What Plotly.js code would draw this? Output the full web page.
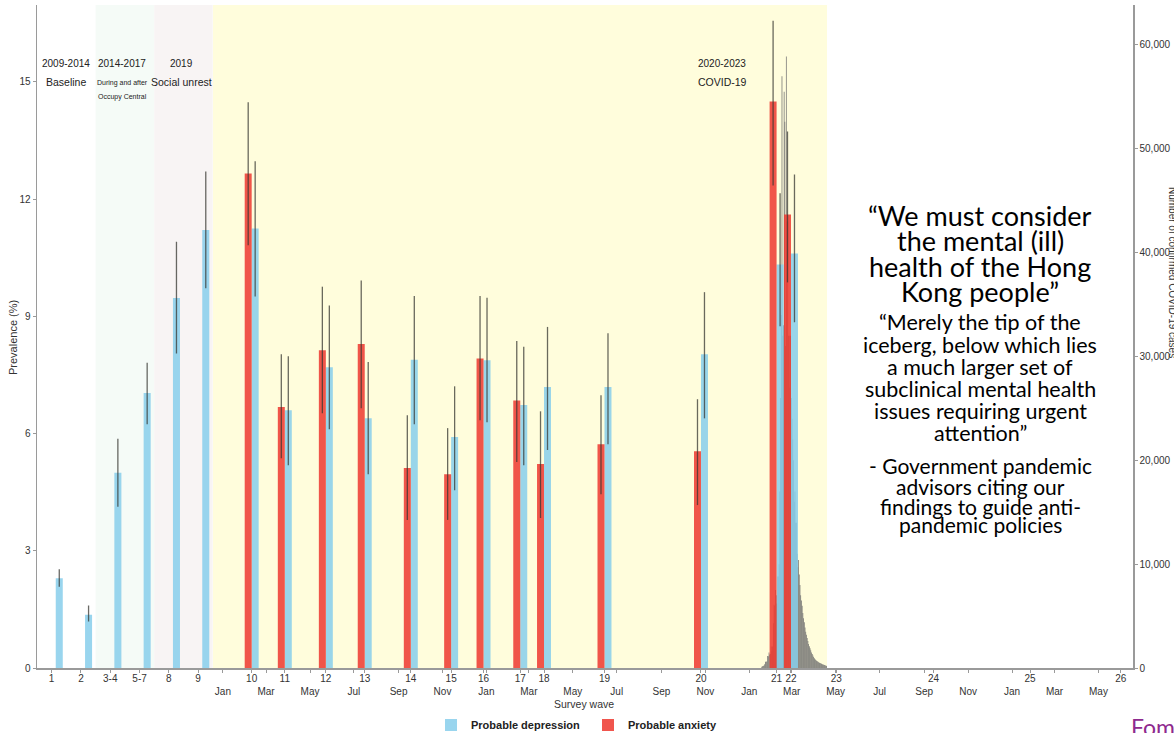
<!DOCTYPE html>
<html><head><meta charset="utf-8">
<script src="https://cdn.plot.ly/plotly-3.0.1.min.js"></script>
<style>html,body{margin:0;padding:0;background:#fff;overflow:hidden}</style>
</head><body><div id="chart" style="width:1174px;height:733px"></div>
<script>
// ---------- DATA ----------
// Pre-2020 survey waves (probable depression only)
const earlyWaves = ['1', '2', '3-4', '5-7', '8', '9'];
const earlyDep   = [2.30, 1.36, 5.00, 7.04, 9.47, 11.21];
const earlyDepHi = [2.53, 1.60, 5.87, 7.81, 10.91, 12.71];
const earlyDepLo = [2.08, 1.19, 4.13, 6.24, 8.05, 9.72];

// COVID-era survey waves
const covidWaves = ['10', '11', '12', '13', '14', '15', '16', '17', '18', '19', '20', '21', '22'];
const covidDates = ['2020-02-24', '2020-04-10', '2020-06-06', '2020-07-30', '2020-10-02', '2020-11-27',
                    '2021-01-11', '2021-03-03', '2021-04-05', '2021-06-28', '2021-11-09', '2022-02-22', '2022-03-14'];
const covidDep   = [11.25, 6.60, 7.70, 6.39, 7.89, 5.91, 7.88, 6.73, 7.19, 7.19, 8.03, 10.33, 10.61];
const covidDepHi = [12.97, 7.98, 9.28, 7.83, 9.52, 7.21, 9.48, 8.22, 8.73, 8.57, 9.62, 12.15, 12.63];
const covidDepLo = [9.51, 5.19, 6.11, 4.96, 6.24, 4.55, 6.29, 5.19, 5.58, 5.73, 6.39, 8.75, 8.85];
const covidAnx   = [12.66, 6.68, 8.13, 8.29, 5.12, 4.96, 7.92, 6.85, 5.22, 5.73, 5.55, 14.50, 11.61];
const covidAnxHi = [14.48, 8.03, 9.76, 9.92, 6.47, 6.14, 9.52, 8.37, 6.57, 6.98, 6.88, 16.57, 13.73];
const covidAnxLo = [10.82, 5.37, 6.52, 6.65, 3.79, 3.79, 6.34, 5.27, 3.84, 4.45, 4.17, 12.35, 9.87];

// Planned waves (tick labels only)
const futureWaves = ['23', '24', '25', '26'];
const futureDates = ['2022-05-16', '2022-09-28', '2023-02-09', '2023-06-15'];

// Month tick labels
const monthTickDates = ['2020-01-15','2020-03-15','2020-05-15','2020-07-15','2020-09-15','2020-11-15',
                        '2021-01-15','2021-03-15','2021-05-15','2021-07-15','2021-09-15','2021-11-15',
                        '2022-01-15','2022-03-15','2022-05-15','2022-07-15','2022-09-15','2022-11-15',
                        '2023-01-15','2023-03-15','2023-05-15'];
const monthTickLabels = ['Jan','Mar','May','Jul','Sep','Nov','Jan','Mar','May','Jul','Sep','Nov',
                         'Jan','Mar','May','Jul','Sep','Nov','Jan','Mar','May'];

// Daily confirmed COVID-19 cases, starting 2022-02-01
const casesStart = '2022-02-01';
const dailyCases = [
  130, 160, 200, 250, 350, 600, 600, 625, 1160, 1130, 1500, 1300, 1350, 2070, 1620, 2070, 4300, 6100, 6000, 7500,
  7000, 6200, 8800, 8800, 10000, 17000, 26000, 34000,
  57000, 32000, 33000, 55500, 52600, 31000, 58900, 43000, 43000, 32000, 32000, 27000, 32000, 26000, 24000, 22000,
  20000, 16000, 17000, 14000, 14000, 11000, 9700, 10400, 9000, 8000, 7000, 6500, 6000, 5300, 4800,
  4400, 3900, 3500, 3200, 2900, 2600, 2300, 2100, 1900, 1700, 1500, 1350, 1200, 1050, 950, 850, 780, 700, 640, 600,
  550, 500, 470, 440, 400, 370, 340, 310, 280, 250,
  230, 200
];

// ---------- BUILD ----------
const DAY = 86400000;
const caseDates = dailyCases.map((_, i) => {
  const d = new Date(casesStart + 'T00:00:00Z'); d.setUTCDate(d.getUTCDate() + i);
  return d.toISOString().slice(0, 10);
});
const barW = 9.7 * DAY;
const blue = 'rgba(135,206,235,0.85)';
const red = 'rgba(238,60,50,0.87)';
const errCol = 'rgba(55,55,50,0.75)';
const diff = (a, b) => a.map((v, i) => v - b[i]);

const FONT = 'Liberation Sans, Arial, sans-serif';
const QFONT = 'Lato, Noto Sans, sans-serif';

const traces = [
  { type: 'bar', x: caseDates, y: dailyCases, xaxis: 'x2', yaxis: 'y', width: DAY, offset: 0,
    marker: { color: '#6e6e6e', line: { width: 0 } }, showlegend: false, hoverinfo: 'skip' },
  { type: 'bar', name: 'Probable depression', legendgroup: 'dep', x: earlyWaves, y: earlyDep, xaxis: 'x', yaxis: 'y2',
    width: 0.24, offset: 0.14, marker: { color: blue, line: { width: 0 } },
    error_y: { type: 'data', symmetric: false, array: diff(earlyDepHi, earlyDep), arrayminus: diff(earlyDep, earlyDepLo),
               color: errCol, thickness: 1.3, width: 0 } },
  { type: 'bar', name: 'Probable depression', legendgroup: 'dep', showlegend: false, x: covidDates, y: covidDep,
    xaxis: 'x2', yaxis: 'y2', width: barW, offset: 0, marker: { color: blue, line: { width: 0 } },
    error_y: { type: 'data', symmetric: false, array: diff(covidDepHi, covidDep), arrayminus: diff(covidDep, covidDepLo),
               color: errCol, thickness: 1.3, width: 0 } },
  { type: 'bar', name: 'Probable anxiety', x: covidDates, y: covidAnx,
    xaxis: 'x2', yaxis: 'y2', width: barW, offset: -barW, marker: { color: red, line: { width: 0 } },
    error_y: { type: 'data', symmetric: false, array: diff(covidAnxHi, covidAnx), arrayminus: diff(covidAnx, covidAnxLo),
               color: errCol, thickness: 1.3, width: 0 } }
];

// pixel -> paper helpers for annotations
const L = 37, R = 1133, T = 5, B = 668;
const px = v => (v - L) / (R - L);
const py = v => (B - v) / (B - T);

const ann = [];
function txt(text, x, y, size, opts) {
  ann.push(Object.assign({ text, x: px(x), y: py(y), xref: 'paper', yref: 'paper', showarrow: false,
    xanchor: 'center', yanchor: 'middle', font: { family: FONT, size, color: '#222' } }, opts || {}));
}
txt('2009-2014', 66, 63, 10);
txt('Baseline', 66, 82, 10.5);
txt('2014-2017', 122, 63, 10);
txt('During and after', 122, 83, 7);
txt('Occupy Central', 122, 97, 7);
txt('2019', 181, 63, 10);
txt('Social unrest', 181, 82, 10.5);
txt('2020-2023', 722, 63, 10);
txt('COVID-19', 722, 82, 10.5);
txt('Survey wave', 584, 704, 10.5, { font: { family: FONT, size: 10.5, color: '#333' } });
txt('Prevalence (%)', 13, 338, 11, { textangle: -90, font: { family: FONT, size: 11, color: '#333' } });
txt('Number of confirmed COVID-19 cases', 1173, 272, 10, { textangle: 90, font: { family: FONT, size: 10, color: '#333' } });

const q1 = ['“We must consider', 'the mental (ill)', 'health of the Hong', 'Kong people”'];
const q1y = [215, 241, 266, 291];
const q2 = ['“Merely the tip of the', 'iceberg, below which lies', 'a much larger set of', 'subclinical mental health', 'issues requiring urgent', 'attention”'];
const q2y = [322, 345, 367, 389, 411, 433];
const q3 = ['- Government pandemic', 'advisors citing our', 'findings to guide anti-', 'pandemic policies'];
const q3y = [465, 486, 506, 524];
q1.forEach((t, i) => txt(t, 980, q1y[i], 27, { font: { family: QFONT, size: 27, color: '#000' } }));
q2.forEach((t, i) => txt(t, 980, q2y[i], 21.5, { font: { family: QFONT, size: 21.5, color: '#000' } }));
q3.forEach((t, i) => txt(t, 980, q3y[i], 21, { font: { family: QFONT, size: 21, color: '#000' } }));
ann.push({ text: 'Fomi', x: px(1129), y: py(711), xref: 'paper', yref: 'paper', showarrow: false,
  xanchor: 'left', yanchor: 'top', font: { family: QFONT, size: 23, color: '#8e2a8e' } });

const shapes = [
  { type: 'rect', layer: 'below', xref: 'x', yref: 'paper', x0: 1.5, x1: 3.5, y0: 0, y1: 1, fillcolor: '#f5fbf7', line: { width: 0 } },
  { type: 'rect', layer: 'below', xref: 'x', yref: 'paper', x0: 3.5, x1: 5.5, y0: 0, y1: 1, fillcolor: '#f8f4f4', line: { width: 0 } },
  { type: 'rect', layer: 'below', xref: 'x2', yref: 'paper', x0: '2020-01-01', x1: '2022-05-03', y0: 0, y1: 1, fillcolor: '#fffddc', line: { width: 0 } }
];

const axisCommon = { showgrid: false, zeroline: false, showline: true, linecolor: '#9a9a9a', linewidth: 1.5,
  ticks: 'outside', ticklen: 3, tickcolor: '#9a9a9a', tickfont: { family: FONT, size: 10, color: '#333' } };

const layout = {
  width: 1174, height: 733,
  margin: { l: L, r: 1174 - R, t: T, b: 733 - B, pad: 0 },
  paper_bgcolor: '#fff', plot_bgcolor: '#fff',
  barmode: 'overlay',
  font: { family: FONT, size: 10, color: '#333' },
  xaxis: Object.assign({}, axisCommon, { type: 'category', domain: [0, px(212.8)], anchor: 'y2', range: [-0.5, 5.5],
    tickangle: 0, ticklabelstandoff: -3 }),
  xaxis2: Object.assign({}, axisCommon, { type: 'date', domain: [px(212.8), 1], anchor: 'y',
    range: ['2020-01-01', '2023-07-02'], tickmode: 'array', tickangle: 0, ticklabelstandoff: -3,
    tickvals: covidDates.concat(futureDates, monthTickDates),
    ticktext: covidWaves.concat(futureWaves, monthTickLabels.map(m => '<br>' + m)) }),
  yaxis: Object.assign({}, axisCommon, { domain: [0, 1], anchor: 'x2', side: 'right', range: [0, 63850],
    tickmode: 'array', tickvals: [0, 10000, 20000, 30000, 40000, 50000, 60000], tickformat: ',d' }),
  yaxis2: Object.assign({}, axisCommon, { overlaying: 'y', anchor: 'x', side: 'left', range: [0, 16.97],
    tickmode: 'array', tickvals: [0, 3, 6, 9, 12, 15] }),
  legend: { orientation: 'h', xref: 'container', yref: 'container', x: 431 / 1174, y: 8 / 733,
    xanchor: 'left', yanchor: 'middle', entrywidth: 112,
    font: { family: FONT, size: 11, color: '#222', weight: 'bold' }, bgcolor: 'rgba(0,0,0,0)' },
  shapes, annotations: ann
};

Plotly.newPlot('chart', traces, layout, { displayModeBar: false, staticPlot: true });
</script>
</body></html>
